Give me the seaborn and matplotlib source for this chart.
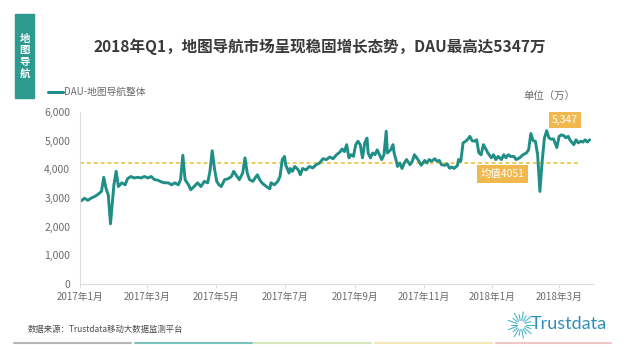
import matplotlib
matplotlib.use("Agg")
import matplotlib.pyplot as plt
import matplotlib.dates as mdates
import matplotlib.ticker as mticker
from matplotlib.lines import Line2D
from matplotlib.patches import Rectangle
import seaborn as sns
import pandas as pd
import numpy as np

# ---------------- data ----------------
dates = [
    "2017-01-01", "2017-01-02", "2017-01-05", "2017-01-08", "2017-01-11", "2017-01-14",
    "2017-01-17", "2017-01-20", "2017-01-22", "2017-01-24", "2017-01-26", "2017-01-28",
    "2017-01-30", "2017-01-31", "2017-02-02", "2017-02-04", "2017-02-07", "2017-02-10",
    "2017-02-12", "2017-02-15", "2017-02-18", "2017-02-21", "2017-02-24", "2017-02-27",
    "2017-03-02", "2017-03-05", "2017-03-08", "2017-03-11", "2017-03-14", "2017-03-17",
    "2017-03-20", "2017-03-23", "2017-03-26", "2017-03-29", "2017-03-31", "2017-04-02",
    "2017-04-04", "2017-04-07", "2017-04-09", "2017-04-12", "2017-04-15", "2017-04-18",
    "2017-04-21", "2017-04-24", "2017-04-26", "2017-04-28", "2017-04-30", "2017-05-02",
    "2017-05-04", "2017-05-06", "2017-05-09", "2017-05-12", "2017-05-15", "2017-05-17",
    "2017-05-19", "2017-05-22", "2017-05-25", "2017-05-27", "2017-05-29", "2017-05-31",
    "2017-06-03", "2017-06-05", "2017-06-07", "2017-06-09", "2017-06-11", "2017-06-13",
    "2017-06-16", "2017-06-18", "2017-06-19", "2017-06-22", "2017-06-25", "2017-06-27",
    "2017-06-29", "2017-07-01", "2017-07-02", "2017-07-05", "2017-07-06", "2017-07-08",
    "2017-07-10", "2017-07-13", "2017-07-15", "2017-07-17", "2017-07-20", "2017-07-23",
    "2017-07-26", "2017-07-29", "2017-08-01", "2017-08-04", "2017-08-07", "2017-08-10",
    "2017-08-13", "2017-08-16", "2017-08-19", "2017-08-21", "2017-08-23", "2017-08-25",
    "2017-08-27", "2017-08-29", "2017-08-31", "2017-09-02", "2017-09-04", "2017-09-06",
    "2017-09-08", "2017-09-10", "2017-09-12", "2017-09-13", "2017-09-15", "2017-09-17",
    "2017-09-19", "2017-09-21", "2017-09-23", "2017-09-25", "2017-09-27", "2017-09-29",
    "2017-09-30", "2017-10-03", "2017-10-05", "2017-10-06", "2017-10-08", "2017-10-09",
    "2017-10-11", "2017-10-13", "2017-10-15", "2017-10-17", "2017-10-20", "2017-10-22",
    "2017-10-24", "2017-10-26", "2017-10-28", "2017-10-30", "2017-11-02", "2017-11-04",
    "2017-11-06", "2017-11-08", "2017-11-11", "2017-11-13", "2017-11-15", "2017-11-17",
    "2017-11-20", "2017-11-22", "2017-11-24", "2017-11-26", "2017-11-28", "2017-12-01",
    "2017-12-02", "2017-12-04", "2017-12-06", "2017-12-09", "2017-12-11", "2017-12-12",
    "2017-12-14", "2017-12-16", "2017-12-18", "2017-12-20", "2017-12-22", "2017-12-24",
    "2017-12-26", "2017-12-28", "2017-12-31", "2018-01-02", "2018-01-04", "2018-01-06",
    "2018-01-09", "2018-01-11", "2018-01-13", "2018-01-15", "2018-01-17", "2018-01-20",
    "2018-01-22", "2018-01-25", "2018-01-28", "2018-01-31", "2018-02-02", "2018-02-04",
    "2018-02-06", "2018-02-08", "2018-02-10", "2018-02-12", "2018-02-14", "2018-02-16",
    "2018-02-18", "2018-02-20", "2018-02-22", "2018-02-24", "2018-02-27", "2018-03-01",
    "2018-03-03", "2018-03-05", "2018-03-07", "2018-03-09", "2018-03-11", "2018-03-14",
    "2018-03-16", "2018-03-18", "2018-03-20", "2018-03-22", "2018-03-24", "2018-03-26",
    "2018-03-28",
]
dau = [
    2880, 2900, 2990, 2920, 3000, 3050,
    3130, 3230, 3720, 3340, 3110, 2100,
    3000, 3460, 3930, 3400, 3530, 3460,
    3670, 3750, 3700, 3720, 3700, 3750,
    3700, 3750, 3640, 3620, 3560, 3530,
    3530, 3460, 3530, 3460, 3640, 4490,
    3640, 3460, 3290, 3400, 3530, 3400,
    3580, 3530, 3930, 4650, 4030, 3580,
    3460, 3400, 3640, 3670, 3750, 3930,
    3810, 3640, 3870, 4400, 3870, 3640,
    3580, 3700, 3810, 3640, 3530, 3460,
    3370, 3320, 3530, 3460, 3580, 3750,
    4340, 4450, 4160, 3870, 4030, 3930,
    4100, 3990, 3810, 4030, 3980, 4100,
    4050, 4160, 4220, 4370, 4340, 4430,
    4370, 4510, 4600, 4710, 4620, 4860,
    4400, 4510, 4450, 4860, 4980, 4860,
    4400, 4920, 5090, 4570, 4400, 4570,
    4510, 4680, 4510, 4340, 4510, 5330,
    4570, 4680, 4860, 4570, 4280, 4100,
    4220, 4030, 4220, 4340, 4160, 4280,
    4510, 4400, 4280, 4140, 4310, 4220,
    4340, 4280, 4370, 4280, 4310, 4160,
    4140, 4190, 4040, 4080, 4030, 4130,
    4340, 4280, 4920, 5000, 5090, 5150,
    5000, 4980, 5030, 4570, 4510, 4860,
    4720, 4570, 4400, 4510, 4340, 4450,
    4340, 4510, 4400, 4510, 4450, 4450,
    4340, 4400, 4510, 4570, 4680, 5250,
    5000, 4980, 4510, 3230, 4280, 5090,
    5347, 5100, 5050, 5060, 4760, 5150,
    5200, 5180, 5100, 5150, 5000, 4860,
    5030, 4920, 4980, 4950, 5030, 4950,
    5030,
]
series_name = "DAU-地图导航整体"
mean_label = "均值4051"
mean_line_level = 4220          # where the dashed mean line sits in the picture
peak_label = "5,347"
peak_date = "2018-02-18"
peak_value = 5347
tick_dates = ["2017-01-01", "2017-03-01", "2017-05-01", "2017-07-01",
              "2017-09-01", "2017-11-01", "2018-01-01", "2018-03-01"]
tick_labels = ["2017年1月", "2017年3月", "2017年5月", "2017年7月",
               "2017年9月", "2017年11月", "2018年1月", "2018年3月"]
y_ticks = [0, 1000, 2000, 3000, 4000, 5000, 6000]

# ---------------- styling ----------------
sns.set_theme(style="white")
plt.rcParams["font.family"] = ["Noto Sans CJK SC", "DejaVu Sans"]

TEAL = "#1f8e86"
GOLD_LINE = "#ecc84e"
GOLD_BOX = "#f1b84f"
GRAY = "#6b6b6b"

W, H = 640, 345
fig = plt.figure(figsize=(W / 100, H / 100), dpi=100)
fig.patch.set_facecolor("white")

def fx(px):
    return px / W

def fy(py):
    return 1 - py / H

ax = fig.add_axes([fx(80), fy(284), fx(593) - fx(80), fy(112) - fy(284)])

df = pd.DataFrame({"date": pd.to_datetime(dates), "dau": dau})
sns.lineplot(data=df, x="date", y="dau", ax=ax, color=TEAL, linewidth=2.1,
             label=series_name)

ax.set_xlim(pd.Timestamp("2017-01-01"), pd.Timestamp("2018-03-31"))
ax.set_ylim(0, 6000)
ax.set_yticks(y_ticks)
ax.yaxis.set_major_formatter(mticker.FuncFormatter(lambda v, p: f"{int(v):,}"))
ax.set_xticks(pd.to_datetime(tick_dates))
ax.set_xticklabels(tick_labels)
ax.set_xlabel("")
ax.set_ylabel("")
for s in ["top", "right"]:
    ax.spines[s].set_visible(False)
for s in ["left", "bottom"]:
    ax.spines[s].set_color("#dcdcdc")
    ax.spines[s].set_linewidth(0.8)
ax.tick_params(axis="y", length=0, pad=7, labelsize=7.5, labelcolor=GRAY)
ax.tick_params(axis="x", length=3, width=0.6, color="#dcdcdc", pad=3,
               labelsize=7, labelcolor=GRAY, bottom=True)
ax.grid(False)

# mean line
ax.axhline(mean_line_level, xmin=0, xmax=(580 - 80) / (593 - 80), color=GOLD_LINE,
           linewidth=1.3, linestyle=(0, (2.2, 1.6)), zorder=1)
ax.annotate(mean_label, xy=(pd.Timestamp("2018-01-10"), mean_line_level),
            xytext=(0, -11), textcoords="offset pixels", ha="center", va="center",
            fontsize=7.5, color="white",
            bbox=dict(boxstyle="square,pad=0.35", fc=GOLD_BOX, ec="none"))
# peak label
ax.annotate(peak_label, xy=(pd.Timestamp(peak_date), peak_value),
            xytext=(18, 11), textcoords="offset pixels", ha="center", va="center",
            fontsize=7.5, color="white",
            bbox=dict(boxstyle="square,pad=0.3", fc=GOLD_BOX, ec="none"))

# legend
leg = ax.legend(loc="center left", bbox_to_anchor=(fx(44), fy(92)),
                bbox_transform=fig.transFigure, frameon=False, fontsize=7,
                handlelength=1.6, handletextpad=0.1, borderaxespad=0)
for t in leg.get_texts():
    t.set_color(GRAY)
for l in leg.get_lines():
    l.set_linewidth(2.2)

# title
fig.text(0.5, fy(47), "2018年Q1，地图导航市场呈现稳固增长态势，DAU最高达5347万",
         ha="center", va="center", fontsize=11.2, fontweight="bold", color="#3a3a3a")

# left teal tag
fig.add_artist(Rectangle((fx(15), fy(98)), fx(34) - fx(15), fy(14) - fy(98),
                         transform=fig.transFigure, color="#2c9a8e", zorder=0))
fig.text(fx(24.5), fy(56), "地\n图\n导\n航", ha="center", va="center",
         fontsize=7.5, color="white", fontweight="bold", linespacing=1.2)

# unit
fig.text(fx(549), fy(97), "单位（万）", ha="center", va="center", fontsize=7.5, color=GRAY)

# source
fig.text(fx(28), fy(329), "数据来源：Trustdata移动大数据监测平台", ha="left", va="center",
         fontsize=6, color="#4a4a4a")

# Trustdata logo
fig.text(fx(531), fy(324), "Trustdata", ha="left", va="center", fontsize=13,
         color="#2f8fb8", family=["Lato", "DejaVu Sans"])
cx, cy = 521, 325
for k in range(18):
    a = 2 * np.pi * k / 18
    r0, r1 = 4.5, 10.5 + (3 if k % 2 == 0 else 0)
    fig.add_artist(Line2D([fx(cx + r0 * np.cos(a)), fx(cx + r1 * np.cos(a))],
                          [fy(cy + r0 * np.sin(a)), fy(cy + r1 * np.sin(a))],
                          transform=fig.transFigure, color="#3aaec4", linewidth=0.7))

# bottom colored strip
strip = [(14, 131, "#b5b5b5"), (135, 252, "#7cc3bb"), (254, 371, "#d6e6b8"),
         (375, 492, "#f2e8b8"), (496, 611, "#f2c6c6")]
for x0, x1, c in strip:
    fig.add_artist(Line2D([fx(x0), fx(x1)], [fy(343), fy(343)], transform=fig.transFigure,
                          color=c, linewidth=1.5))

fig.savefig("out.png", dpi=100)
